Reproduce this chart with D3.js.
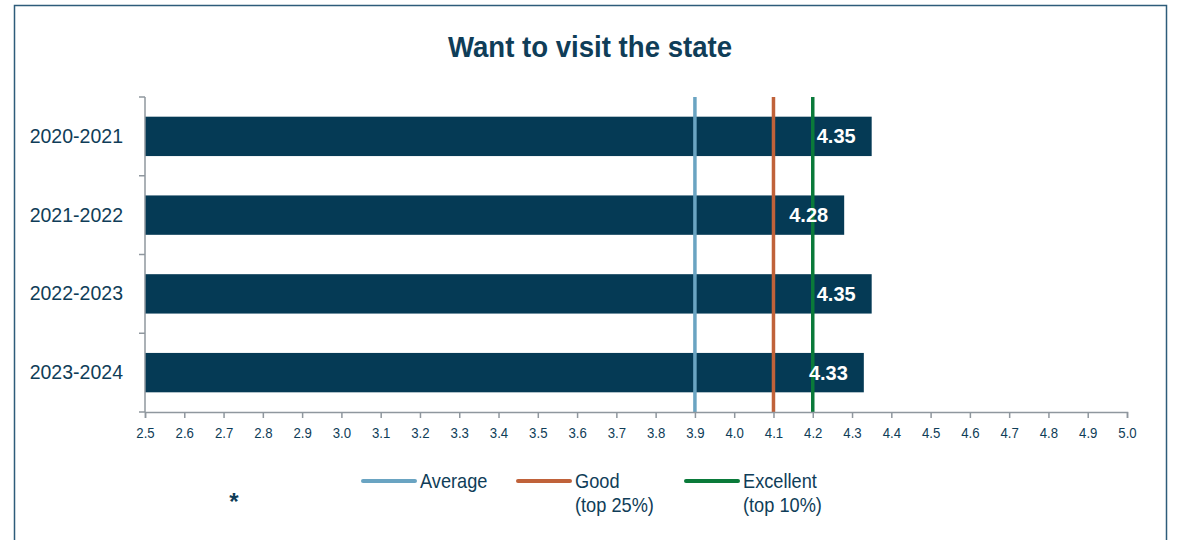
<!DOCTYPE html>
<html>
<head>
<meta charset="utf-8">
<script src="https://cdn.jsdelivr.net/npm/d3@7"></script>
<style>
  html, body { margin: 0; padding: 0; background: #fff; }
  svg { display: block; font-family: "Liberation Sans", Arial, sans-serif; }
</style>
</head>
<body>
<svg id="chart" width="1178" height="540"></svg>
<script>
// Survey score by academic year
const years = ["2020-2021", "2021-2022", "2022-2023", "2023-2024"];
const scores = [4.35, 4.28, 4.35, 4.33];

// Benchmark reference lines
const benchmarkNames = ["Average", "Good", "Excellent"];
const benchmarkSubtitles = ["", "(top 25%)", "(top 10%)"];
const benchmarkValues = [3.9, 4.1, 4.2];
const benchmarkColors = ["#6aa4c2", "#c0623a", "#0a7a3a"];

const xTicks = d3.range(25, 51).map(d => d / 10);

const svg = d3.select("#chart");
const ink = "#0f3d58";
const narrow = 0.91; // horizontal squeeze for a narrow face

// Place a text at (x, y) with a condensed horizontal scale
function placeText(sel, fx, fy, sx) {
  return sel
    .attr("x", 0).attr("y", 0)
    .attr("transform", (d, i) => `translate(${fx(d, i)},${fy(d, i)}) scale(${sx},1)`);
}

// Outer frame
svg.append("rect")
  .attr("x", 14.5).attr("y", 5.5)
  .attr("width", 1152).attr("height", 560)
  .attr("fill", "none").attr("stroke", "#2d5c7a").attr("stroke-width", 1.5);

// Title
placeText(svg.append("text").datum("Want to visit the state"), () => 590, () => 57, 0.92)
  .attr("text-anchor", "middle")
  .attr("font-size", 30).attr("font-weight", "bold")
  .attr("fill", ink)
  .text(d => d);

const x = d3.scaleLinear().domain([2.5, 5.0]).range([145, 1127]);
const y = d3.scaleBand().domain(years).range([97, 412]).paddingInner(0.5).paddingOuter(0.25);

// Bars
svg.append("g").selectAll("rect")
  .data(years)
  .join("rect")
  .attr("x", x(2.5))
  .attr("y", d => y(d))
  .attr("width", (d, i) => x(scores[i]) - x(2.5))
  .attr("height", y.bandwidth())
  .attr("fill", "#053a55");

// Benchmark lines
svg.append("g").selectAll("line")
  .data(benchmarkValues)
  .join("line")
  .attr("x1", d => x(d)).attr("x2", d => x(d))
  .attr("y1", 97).attr("y2", 412)
  .attr("stroke", (d, i) => benchmarkColors[i])
  .attr("stroke-width", 3.5);

// Value labels
placeText(
  svg.append("g").selectAll("text").data(years).join("text"),
  (d, i) => x(scores[i]) - 16,
  d => y(d) + y.bandwidth() / 2 + 7,
  1.0)
  .attr("text-anchor", "end")
  .attr("font-size", 20).attr("font-weight", "bold")
  .attr("fill", "#fff")
  .text((d, i) => scores[i].toFixed(2));

// Category axis: ticks at band boundaries
const axisColor = "#8f979e";
const yAxis = svg.append("g");
yAxis.append("line")
  .attr("x1", 145).attr("x2", 145).attr("y1", 97).attr("y2", 412)
  .attr("stroke", axisColor).attr("stroke-width", 1.5);
const boundaries = d3.range(years.length + 1).map(i => 97 + i * (315 / years.length));
yAxis.selectAll("line.tick")
  .data(boundaries)
  .join("line")
  .attr("class", "tick")
  .attr("x1", 139).attr("x2", 145)
  .attr("y1", d => d).attr("y2", d => d)
  .attr("stroke", axisColor).attr("stroke-width", 1.5);
placeText(
  yAxis.selectAll("text").data(years).join("text"),
  () => 123,
  d => y(d) + y.bandwidth() / 2 + 6.5,
  0.93)
  .attr("text-anchor", "end")
  .attr("font-size", 21)
  .attr("fill", ink)
  .text(d => d);

// Value axis
const xAxis = svg.append("g")
  .attr("transform", "translate(0,412)")
  .call(d3.axisBottom(x).tickValues(xTicks).tickFormat(d3.format(".1f")).tickSize(6));
xAxis.select(".domain").attr("stroke", axisColor).attr("stroke-width", 1.5);
xAxis.selectAll(".tick line").attr("stroke", axisColor).attr("stroke-width", 1.5);
xAxis.selectAll(".tick text")
  .attr("y", 0).attr("dy", null)
  .attr("transform", `translate(0,26) scale(${narrow},1)`)
  .attr("font-size", 14.5)
  .attr("font-family", "\"Liberation Sans\", Arial, sans-serif")
  .attr("fill", ink);

// Legend
const legendX = [363, 518, 686];
const legend = svg.append("g").selectAll("g")
  .data(benchmarkNames)
  .join("g")
  .attr("transform", (d, i) => `translate(${legendX[i]},481)`);
legend.append("line")
  .attr("x1", 0).attr("x2", 52).attr("y1", 0).attr("y2", 0)
  .attr("stroke", (d, i) => benchmarkColors[i])
  .attr("stroke-width", 4).attr("stroke-linecap", "round");
placeText(legend.append("text"), () => 57, () => 7, narrow)
  .attr("font-size", 20).attr("fill", ink)
  .text(d => d);
placeText(legend.append("text"), () => 57, () => 31, narrow)
  .attr("font-size", 20).attr("fill", ink)
  .text((d, i) => benchmarkSubtitles[i]);

// Footnote marker
svg.append("text")
  .attr("x", 234).attr("y", 510)
  .attr("text-anchor", "middle")
  .attr("font-size", 24).attr("font-weight", "bold")
  .attr("fill", ink)
  .text("*");
</script>
</body>
</html>
